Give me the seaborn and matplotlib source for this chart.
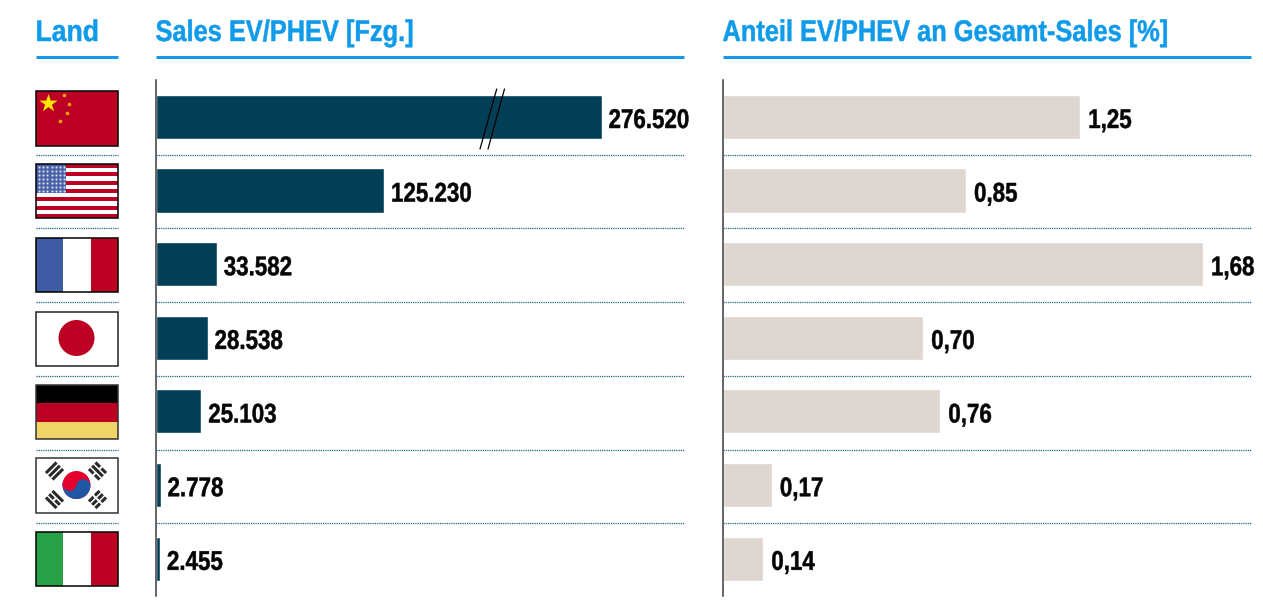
import numpy as np
import pandas as pd
import matplotlib
matplotlib.use("Agg")
import matplotlib.pyplot as plt
from matplotlib.patches import Rectangle, Circle, Wedge
from matplotlib.patheffects import AbstractPathEffect
from matplotlib.transforms import Affine2D
import seaborn as sns

countries = ["China", "USA", "Frankreich", "Japan", "Deutschland", "Südkorea", "Italien"]
sales = [276520, 125230, 33582, 28538, 25103, 2778, 2455]
sales_labels = ["276.520", "125.230", "33.582", "28.538", "25.103", "2.778", "2.455"]
share = [1.25, 0.85, 1.68, 0.70, 0.76, 0.17, 0.14]
share_labels = ["1,25", "0,85", "1,68", "0,70", "0,76", "0,17", "0,14"]
headers = ["Land", "Sales EV/PHEV [Fzg.]", "Anteil EV/PHEV an Gesamt-Sales [%]"]
# the China bar is drawn shortened by this amount, as marked by the axis-break strokes
sales_cut = [32100, 0, 0, 0, 0, 0, 0]

W, H = 1263, 614
NAVY, BEIGE, BLUE, DOT = "#023f57", "#ded6d0", "#0f9bea", "#1f6785"
RED = "#bc0024"
FONT = ["Liberation Sans", "DejaVu Sans"]

sns.set_theme(style="white")
plt.rcParams["font.family"] = FONT
fig = plt.figure(figsize=(W / 100, H / 100), dpi=100, facecolor="white")


class Narrow(AbstractPathEffect):
    """Condense the glyphs horizontally: no narrow bold face is installed."""

    def __init__(self, factor, stroke=0.35):
        super().__init__()
        self.factor = factor
        self.stroke = stroke

    def draw_path(self, renderer, gc, tpath, affine, rgbFace=None):
        gc.set_linewidth(self.stroke)
        renderer.draw_path(gc, tpath, Affine2D().scale(self.factor, 1) + affine, rgbFace)


def box(x0, x1, y0, y1):
    return [x0 / W, 1 - y1 / H, (x1 - x0) / W, (y1 - y0) / H]


def panel(values, labels, color, x0, x1, xmax, pad):
    ax = fig.add_axes(box(x0, x1, 80.0, 595.5))
    df = pd.DataFrame({"land": countries, "wert": values})
    sns.barplot(data=df, y="land", x="wert", color=color, saturation=1, width=0.6, ax=ax)
    ax.set_xlim(0, xmax)
    ax.set_xlabel("")
    ax.set_ylabel("")
    ax.set_xticks([])
    ax.tick_params(left=False, labelleft=False)
    sns.despine(ax=ax, top=True, right=True, bottom=True)
    ax.spines["left"].set_color("#3c3c3c")
    ax.spines["left"].set_linewidth(1.1)
    anns = ax.bar_label(ax.containers[0], labels=labels, padding=pad,
                        fontsize=19.5, fontweight="bold", color="#050505", family=FONT)
    for a in anns:
        a.xyann = (pad, -3)
        a.set_path_effects([Narrow(0.825)])
    ax.patch.set_alpha(0)
    return ax


drawn = [s - c for s, c in zip(sales, sales_cut)]
ax1 = panel(drawn, sales_labels, NAVY, 155.5, 684, 528.5 / 0.001825, 5)
ax2 = panel(share, share_labels, BEIGE, 723, 1251, 528 / 285.5, 6)

# overlay in pixel coordinates for headers, rules and flags
ov = fig.add_axes([0, 0, 1, 1], zorder=5)
ov.set_xlim(0, W)
ov.set_ylim(H, 0)
ov.axis("off")
ov.patch.set_alpha(0)

columns = [(36, 118), (156, 684), (723, 1251)]
squeeze = [0.89, 0.85, 0.85]
for (a, b), t, f in zip(columns, headers, squeeze):
    ov.plot([a, b], [57.3, 57.3], color=BLUE, lw=2.2, solid_capstyle="butt")
    txt = ov.text(a - 0.5, 41, t, color=BLUE, fontsize=21.5, fontweight="bold", va="baseline", ha="left", family=FONT)
    txt.set_path_effects([Narrow(f)])
    for y in [154.5, 228, 302, 375.5, 449.5, 523]:
        ov.plot([a, b], [y, y], color=DOT, lw=0.9, ls=(0, (1, 0.8)))

# axis-break strokes on the China bar
ov.plot([480, 496.7], [149, 89], color="black", lw=0.9)
ov.plot([488, 504.5], [149, 89], color="black", lw=0.9)

FX0, FX1 = 36, 117.7
rows = [(90.5, 146), (164, 218), (238, 292), (311.5, 365.5), (385, 439), (458, 513), (532, 586)]


def rect(x0, x1, y0, y1, c, **kw):
    ov.add_patch(Rectangle((x0, y0), x1 - x0, y1 - y0, facecolor=c, edgecolor="none", **kw))


def frame(y0, y1, c="black"):
    ov.add_patch(Rectangle((FX0, y0), FX1 - FX0, y1 - y0, facecolor="none", edgecolor=c, lw=1.1, zorder=4))


# China
y0, y1 = rows[0]
rect(FX0, FX1, y0, y1, RED)
ov.scatter([47.5], [103], marker="*", s=190, color="#ffe600", linewidths=0, zorder=3)
ov.scatter([64, 69, 67, 60], [94.5, 103.5, 113, 121], s=7, color="#f0a010", linewidths=0, zorder=3)
frame(y0, y1)

# USA
y0, y1 = rows[1]
h = (y1 - y0) / 13
for i in range(13):
    rect(FX0, FX1, y0 + i * h, y0 + (i + 1) * h, RED if i % 2 == 0 else "white")
rect(FX0, 66, y0, y0 + 7 * h, "#4a62a8")
sx, sy = np.meshgrid(np.arange(39, 65, 4.2), np.arange(y0 + 3, y0 + 7 * h - 1, 4))
ov.scatter(sx.ravel(), sy.ravel(), s=2.5, color="#d5daf0", linewidths=0, zorder=3)
frame(y0, y1)

# France
y0, y1 = rows[2]
rect(FX0, 63, y0, y1, "#3f5ba4")
rect(63, 90.5, y0, y1, "white")
rect(90.5, FX1, y0, y1, RED)
frame(y0, y1)

# Japan
y0, y1 = rows[3]
rect(FX0, FX1, y0, y1, "white")
ov.add_patch(Circle((76.5, 338), 18, facecolor=RED, edgecolor="none"))
frame(y0, y1, "#222222")

# Germany
y0, y1 = rows[4]
rect(FX0, FX1, y0 - 0.5, y0 + 18, "black")
rect(FX0, FX1, y0 + 18, y0 + 36.5, RED)
rect(FX0, FX1, y0 + 36.5, y1, "#efd468")
frame(y0, y1, "#333333")

# South Korea
y0, y1 = rows[5]
rect(FX0, FX1, y0, y1, "white")
cx, cy, r, tilt = 76.5, 485, 14, 10
ov.add_patch(Circle((cx, cy), r, facecolor="#e2002d", edgecolor="none", zorder=2))
ov.add_patch(Wedge((cx, cy), r, tilt, 180 + tilt, facecolor="#1f57a4", edgecolor="none", zorder=2))
dx, dy = r / 2 * np.cos(np.radians(tilt)), r / 2 * np.sin(np.radians(tilt))
ov.add_patch(Circle((cx - dx, cy - dy), r / 2, facecolor="#e2002d", edgecolor="none", zorder=3))
ov.add_patch(Circle((cx + dx, cy + dy), r / 2, facecolor="#1f57a4", edgecolor="none", zorder=3))
trigrams = [(54.5, 471, 45, [0, 0, 0]), (97.5, 471, -45, [1, 0, 1]),
            (54.5, 499.5, -45, [0, 1, 0]), (97.5, 499.5, 45, [1, 1, 1])]
for tx, ty, ang, broken in trigrams:
    c, s = np.cos(np.radians(ang)), np.sin(np.radians(ang))
    for off, br in zip((-4.6, 0, 4.6), broken):
        mx, my = tx + off * s, ty + off * c
        spans = [(-7.5, -1), (1, 7.5)] if br else [(-7.5, 7.5)]
        for a, b in spans:
            ov.plot([mx + a * c, mx + b * c], [my - a * s, my - b * s], color="#2b2b2b", lw=2.2,
                    solid_capstyle="butt", zorder=3)
frame(y0, y1, "#333333")

# Italy
y0, y1 = rows[6]
rect(FX0, 63, y0, y1, "#27a048")
rect(63, 90.5, y0, y1, "white")
rect(90.5, FX1, y0, y1, RED)
frame(y0, y1)

fig.savefig("out.png", dpi=100, facecolor="white")
